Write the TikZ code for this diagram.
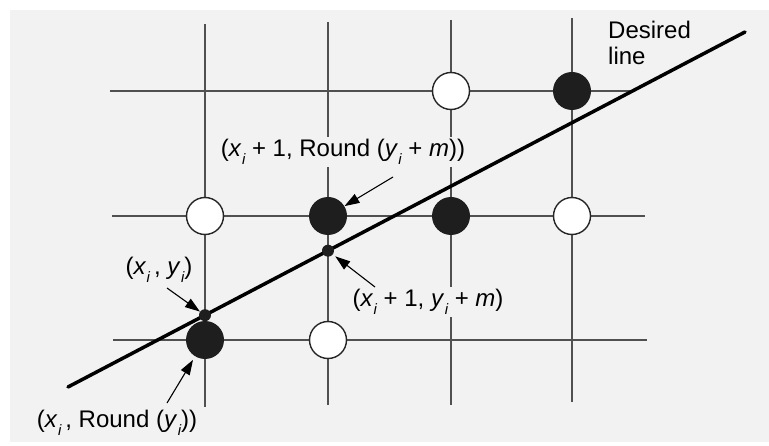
\documentclass[tikz,border=0pt]{standalone}
\usepackage{fontspec}
\setmainfont{Liberation Sans}
\usetikzlibrary{arrows.meta}
\definecolor{paper}{HTML}{F2F2F2}
\definecolor{gridc}{HTML}{505050}
\definecolor{dotc}{HTML}{1E1E1E}
\newcommand\sbi{\raisebox{-0.32em}{\fontsize{15}{15}\selectfont\itshape i}}
\newcommand\vx{\textit{x}\kern0.02em\sbi}
\newcommand\vy{\textit{y}\kern0.02em\sbi}
\begin{document}
\begin{tikzpicture}[x=1pt,y=-1pt,
  gridline/.style={draw=gridc,line width=1.5pt},
  openpx/.style={circle,draw=black!85,line width=1.4pt,fill=white,minimum size=37pt,inner sep=0pt},
  fullpx/.style={circle,fill=dotc,minimum size=38pt,inner sep=0pt},
  truept/.style={circle,fill=dotc,minimum size=12pt,inner sep=0pt},
  desired/.style={line width=3.5pt,line cap=round},
  pointer/.style={line width=1.1pt,-{Triangle[length=15pt,width=10pt]}},
  lbl/.style={font=\fontsize{24}{28}\selectfont,inner sep=2pt},
  lblbg/.style={lbl,fill=paper}]
\useasboundingbox (0,0) rectangle (769,446);
\fill[white] (0,0) rectangle (769,446);
\fill[paper] (10,10) rectangle (769,442);
% grid
\draw[gridline] (110,91) -- (635,91);
\draw[gridline] (112,216) -- (645,216);
\draw[gridline] (113,340) -- (647,340);
\draw[gridline] (205,24) -- (205,407);
\draw[gridline] (328,22) -- (328,405);
\draw[gridline] (451,20) -- (451,405);
\draw[gridline] (572,18) -- (572,402);
% labels with background (interrupt grid)
\node[lblbg] (l1) at (343,152) {(\vx\ + 1, Round (\vy\ + \textit{m}))};
\node[lblbg] (l2) at (428,302) {(\vx\ + 1, \vy\ + \textit{m})};
\node[lbl] (l3) at (159,270) {(\vx\,, \vy)};
\node[lbl] (l4) at (117,423) {(\vx\,, Round (\vy))};
\node[lbl,align=left,anchor=north west,font=\fontsize{24}{26}\selectfont] (l5) at (606,19) {Desired\\line};
% pixels
\node[openpx] (p13) at (451,91) {};
\node[fullpx] (p14) at (572,91) {};
\node[openpx] (p21) at (205,216) {};
\node[fullpx] (p22) at (328,216) {};
\node[fullpx] (p23) at (451,216) {};
\node[openpx] (p24) at (572,216) {};
\node[fullpx] (p31) at (205,340) {};
\node[openpx] (p32) at (328,340) {};
% desired line
\coordinate (ls) at (68,387);
\coordinate (le) at (745,32);
\draw[desired] (ls) -- (le);
\node[truept] (t1) at (205,315.2) {};
\node[truept] (t2) at (328,250.7) {};
% pointers
\coordinate (a1) at (393,177);
\coordinate (a2) at (375,287);
\coordinate (a3) at (167,288);
\coordinate (a4) at (167,403);
\draw[pointer] (a1) -- (p22);
\draw[pointer,shorten >=3pt] (a2) -- (t2);
\draw[pointer] (a3) -- (t1);
\draw[pointer,shorten >=4pt] (a4) -- (p31);
\end{tikzpicture}
\end{document}
